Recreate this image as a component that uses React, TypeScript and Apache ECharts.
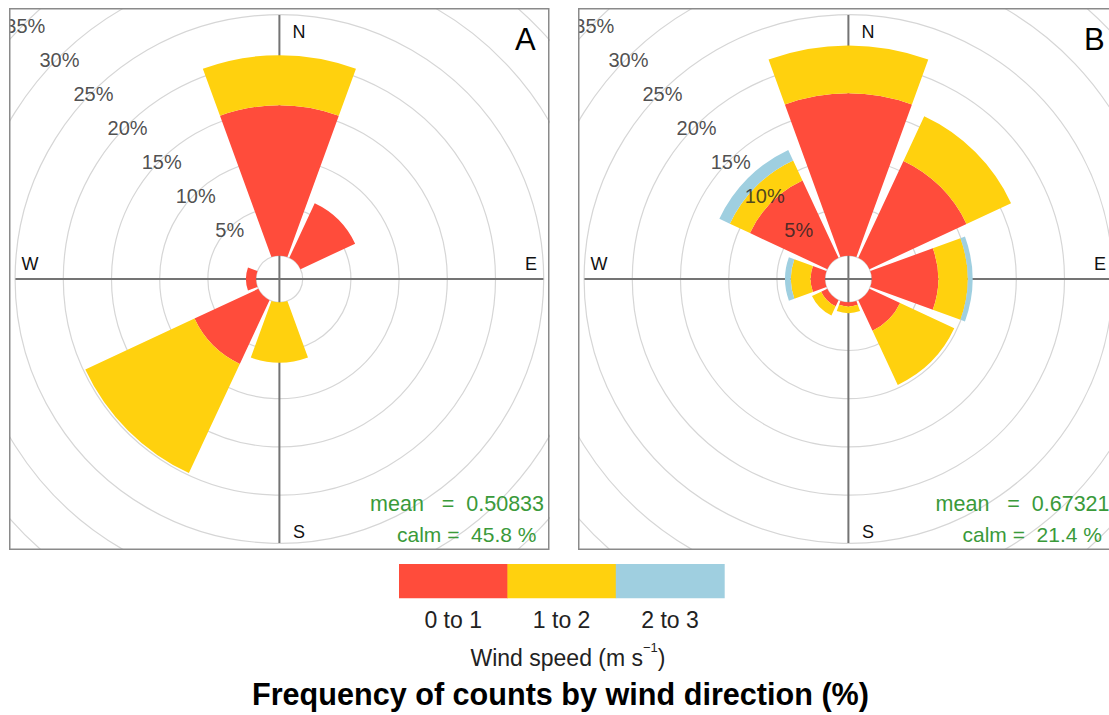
import React, { useEffect, useRef } from "react";
import * as echarts from "echarts";

// Wind direction sectors (45° bins, clockwise from north)
const DIRECTIONS = ["N", "NE", "E", "SE", "S", "SW", "W", "NW"];
const SPEED_BINS = ["0 to 1", "1 to 2", "2 to 3"];
const BIN_COLORS = ["#FF4C3B", "#FFD10E", "#9FCFE0"];
const RING_TICKS = [5, 10, 15, 20, 25, 30, 35];

// Panel A: frequency (%) per direction for each speed bin
const A_SPEED_0_1 = [15.6, 6.25, 0, 0, 0, 7.3, 1.05, 0];
const A_SPEED_1_2 = [5.2, 0, 0, 0, 6.25, 12.5, 0, 0];
const A_SPEED_2_3 = [0, 0, 0, 0, 0, 0, 0, 0];

// Panel B
const B_SPEED_0_1 = [16.85, 11.1, 6.9, 3.5, 0.42, 0.7, 1.5, 8.85];
const B_SPEED_1_2 = [4.95, 5.1, 3.05, 6.2, 0.7, 1.05, 2.05, 2.3];
const B_SPEED_2_3 = [0, 0, 0.5, 0, 0, 0, 0.6, 1.2];

const PANEL_NAMES = ["A", "B"];
const MEAN_SPEED = ["0.50833", "0.67321"];
const CALM_PERCENT = ["45.8", "21.4"];

const PANEL_DATA = [
  [A_SPEED_0_1, A_SPEED_1_2, A_SPEED_2_3],
  [B_SPEED_0_1, B_SPEED_1_2, B_SPEED_2_3],
];

// layout
const W = 1109;
const H = 715;
const BOX_LEFT = [9, 578.3];
const BOX_TOP = 7.5;
const BOX_W = 540.5;
const BOX_H = 542;
const CX = 270.4; // rose centre inside a panel
const CY = 271;
const CALM_OFFSET = 2.42; // inner calm hole, in % units
const R_MAX = 35;
const POLAR_RADIUS = 360.7;
const CROSS_HALF = 264;
const STAT_RIGHT = [535, 531.5];

const FONT = "'Liberation Sans', Arial, Helvetica, sans-serif";

function text(style: any, z = 101) {
  return {
    type: "text",
    z,
    silent: true,
    style: { fontFamily: FONT, align: "center", verticalAlign: "middle", ...style },
  };
}

function panelOption(p: number) {
  const series: any[] = PANEL_DATA[p].map((vals, b) => ({
    type: "bar",
    name: SPEED_BINS[b],
    coordinateSystem: "polar",
    stack: "rose",
    data: vals,
    barCategoryGap: "11.1%",
    itemStyle: { color: BIN_COLORS[b] },
    silent: true,
    z: 2,
  }));

  // percentage labels along the north-west ray
  series.push({
    type: "scatter",
    coordinateSystem: "polar",
    data: RING_TICKS.map((v) => [v, DIRECTIONS.indexOf("NW")]),
    symbol: "circle",
    symbolSize: 1,
    itemStyle: { color: "rgba(0,0,0,0)" },
    silent: true,
    z: 3,
    label: {
      show: true,
      position: "inside",
      offset: [1, 2],
      formatter: (prm: any) => prm.value[0] + "%",
      color: "#222",
      fontSize: 20,
      fontFamily: FONT,
    },
  });

  const graphic: any[] = [
    {
      type: "line",
      z: 1,
      silent: true,
      shape: { x1: CX, y1: CY - CROSS_HALF, x2: CX, y2: CY + CROSS_HALF },
      style: { stroke: "#747474", lineWidth: 2 },
    },
    {
      type: "line",
      z: 1,
      silent: true,
      shape: { x1: CX - CROSS_HALF, y1: CY, x2: CX + CROSS_HALF, y2: CY },
      style: { stroke: "#747474", lineWidth: 2 },
    },
    text({ text: "N", x: CX + 19.5, y: 23.5, fill: "#111", fontSize: 18 }),
    text({ text: "S", x: CX + 19.5, y: 523.5, fill: "#111", fontSize: 18 }),
    text({ text: "W", x: CX - 249.5, y: 255.5, fill: "#111", fontSize: 18 }),
    text({ text: "E", x: CX + 251.5, y: 255.5, fill: "#111", fontSize: 18 }),
    text({ text: PANEL_NAMES[p], x: CX + 246, y: 31, fill: "#000", fontSize: 31 }),
    text({
      text: "mean   =  " + MEAN_SPEED[p],
      x: STAT_RIGHT[p],
      y: 495.5,
      align: "right",
      fill: "#3a9a3a",
      fontSize: 21.5,
    }),
    text({
      text: "calm =  " + CALM_PERCENT[p] + " %",
      x: STAT_RIGHT[p] - 7.5,
      y: 526,
      align: "right",
      fill: "#3a9a3a",
      fontSize: 21,
    }),
    {
      type: "rect",
      z: 102,
      silent: true,
      shape: { x: 0.75, y: 0.75, width: BOX_W - 1.5, height: BOX_H - 1.5 },
      style: { fill: "none", stroke: "#8a8a8a", lineWidth: 1.5 },
    },
  ];

  return {
    animation: false,
    backgroundColor: "#ffffff",
    textStyle: { fontFamily: FONT },
    polar: { center: [CX, CY], radius: POLAR_RADIUS },
    angleAxis: {
      type: "category",
      data: DIRECTIONS,
      startAngle: 112.5,
      clockwise: true,
      boundaryGap: true,
      axisLine: { show: false },
      axisTick: { show: false },
      axisLabel: { show: false },
      splitLine: { show: false },
    },
    radiusAxis: {
      type: "value",
      min: -CALM_OFFSET,
      max: R_MAX,
      minInterval: 5,
      maxInterval: 5,
      splitNumber: 8,
      axisLine: { show: false },
      axisTick: { show: false },
      axisLabel: { show: false },
      splitLine: { show: true, lineStyle: { color: "#d6d6d6", width: 1.2 } },
    },
    series,
    graphic: { elements: graphic },
  };
}

function keyOption() {
  const graphic: any[] = [];
  const keyLeft = 399;
  const keyW = 108.4;
  SPEED_BINS.forEach((lab, i) => {
    graphic.push(
      {
        type: "rect",
        z: 101,
        silent: true,
        shape: { x: keyLeft + i * keyW, y: 564, width: keyW + 0.5, height: 34.3 },
        style: { fill: BIN_COLORS[i] },
      },
      text({ text: lab, x: keyLeft + i * keyW + keyW / 2, y: 620, fill: "#222", fontSize: 23 })
    );
  });
  graphic.push(
    text({
      text: "{n|Wind speed (m s}{s|−1}{n|)}",
      x: 568,
      y: 655,
      fill: "#222",
      rich: {
        n: { fontSize: 23, lineHeight: 28, verticalAlign: "bottom", fill: "#222", fontFamily: FONT },
        s: { fontSize: 13, lineHeight: 16, verticalAlign: "top", fill: "#222", fontFamily: FONT },
      },
    }),
    text({
      text: "Frequency of counts by wind direction (%)",
      x: 560.5,
      y: 694,
      fill: "#000",
      fontSize: 30.6,
      fontWeight: "bold",
    })
  );
  return {
    animation: false,
    backgroundColor: "#ffffff",
    graphic: { elements: graphic },
  };
}

function useChart(build: () => any) {
  const ref = useRef<HTMLDivElement>(null);
  useEffect(() => {
    if (!ref.current) return;
    const chart = echarts.init(ref.current, undefined, { renderer: "svg" });
    chart.setOption(build());
    return () => chart.dispose();
  }, []);
  return ref;
}

export default function App() {
  const keyRef = useChart(keyOption);
  const aRef = useChart(() => panelOption(0));
  const bRef = useChart(() => panelOption(1));
  const panelStyle = (p: number): React.CSSProperties => ({
    position: "absolute",
    left: BOX_LEFT[p],
    top: BOX_TOP,
    width: BOX_W,
    height: BOX_H,
    overflow: "hidden",
  });
  return (
    <div
      style={{
        position: "absolute",
        left: 0,
        top: 0,
        width: W,
        height: H,
        overflow: "hidden",
        background: "#fff",
      }}
    >
      <div ref={keyRef} style={{ position: "absolute", left: 0, top: 0, width: W, height: H }} />
      <div ref={aRef} style={panelStyle(0)} />
      <div ref={bRef} style={panelStyle(1)} />
    </div>
  );
}
